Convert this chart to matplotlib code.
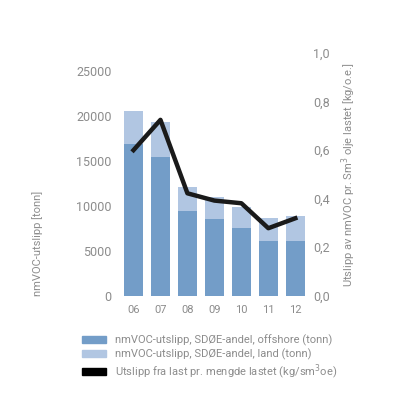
import numpy as np
import matplotlib
matplotlib.use("Agg")
import matplotlib.pyplot as plt
import matplotlib.patches as mpatches

plt.rcParams["font.family"] = ["Roboto", "DejaVu Sans"]

years = ["06", "07", "08", "09", "10", "11", "12"]
offshore = [16800, 15400, 9400, 8500, 7500, 6100, 6100]
total = [20500, 19300, 12100, 10900, 9800, 8600, 8800]
land = [t - o for t, o in zip(total, offshore)]
per_loaded = [0.60, 0.725, 0.422, 0.392, 0.381, 0.278, 0.319]

c_off = "#739dc8"
c_land = "#b1c6e2"
grey = "#8c8c8c"

fig = plt.figure(figsize=(4, 4), dpi=100)
ax = fig.add_axes([0.30, 0.261, 0.472, 0.606])
x = np.arange(len(years))
ax.bar(x, offshore, width=0.72, color=c_off)
ax.bar(x, land, width=0.72, bottom=offshore, color=c_land)
ax.set_xlim(-0.5, 6.5)
ax.set_ylim(0, 26930)
ax.set_yticks(range(0, 25001, 5000))
ax.set_xticks(x)
ax.set_xticklabels(years)
for s in ax.spines.values():
    s.set_visible(False)
ax.tick_params(length=0, colors=grey, labelsize=9)
ax.tick_params(axis="y", pad=6)
ax.tick_params(axis="x", pad=7, labelsize=8)
ax.set_ylabel("nmVOC-utslipp [tonn]", color=grey, fontsize=8, loc="bottom", labelpad=24)

ax2 = ax.twinx()
ax2.plot(x, per_loaded, color="#1a1a1a", lw=3.2)
ax2.set_ylim(0, 1.0)
ax2.set_yticks(np.arange(0, 1.01, 0.2))
ax2.set_yticklabels([f"{v:.1f}".replace(".", ",") for v in np.arange(0, 1.01, 0.2)])
for s in ax2.spines.values():
    s.set_visible(False)
ax2.tick_params(length=0, colors=grey, labelsize=9, pad=3)
ax2.set_ylabel("Utslipp av nmVOC pr. Sm$^3$ olje lastet [kg/o.e.]", color=grey, fontsize=8, labelpad=7)

handles = [
    mpatches.Patch(color=c_off, label="nmVOC-utslipp, SDØE-andel, offshore (tonn)"),
    mpatches.Patch(color=c_land, label="nmVOC-utslipp, SDØE-andel, land (tonn)"),
    mpatches.Patch(color="black", label="Utslipp fra last pr. mengde lastet (kg/sm$^3$oe)"),
]
leg = fig.legend(handles=handles, loc="upper left", bbox_to_anchor=(0.205, 0.163),
                 frameon=False, fontsize=8, handlelength=2.2, handleheight=0.6,
                 labelspacing=0.2, handletextpad=0.8, borderaxespad=0, borderpad=0)
for t in leg.get_texts():
    t.set_color(grey)

fig.savefig("out.png", dpi=100)
